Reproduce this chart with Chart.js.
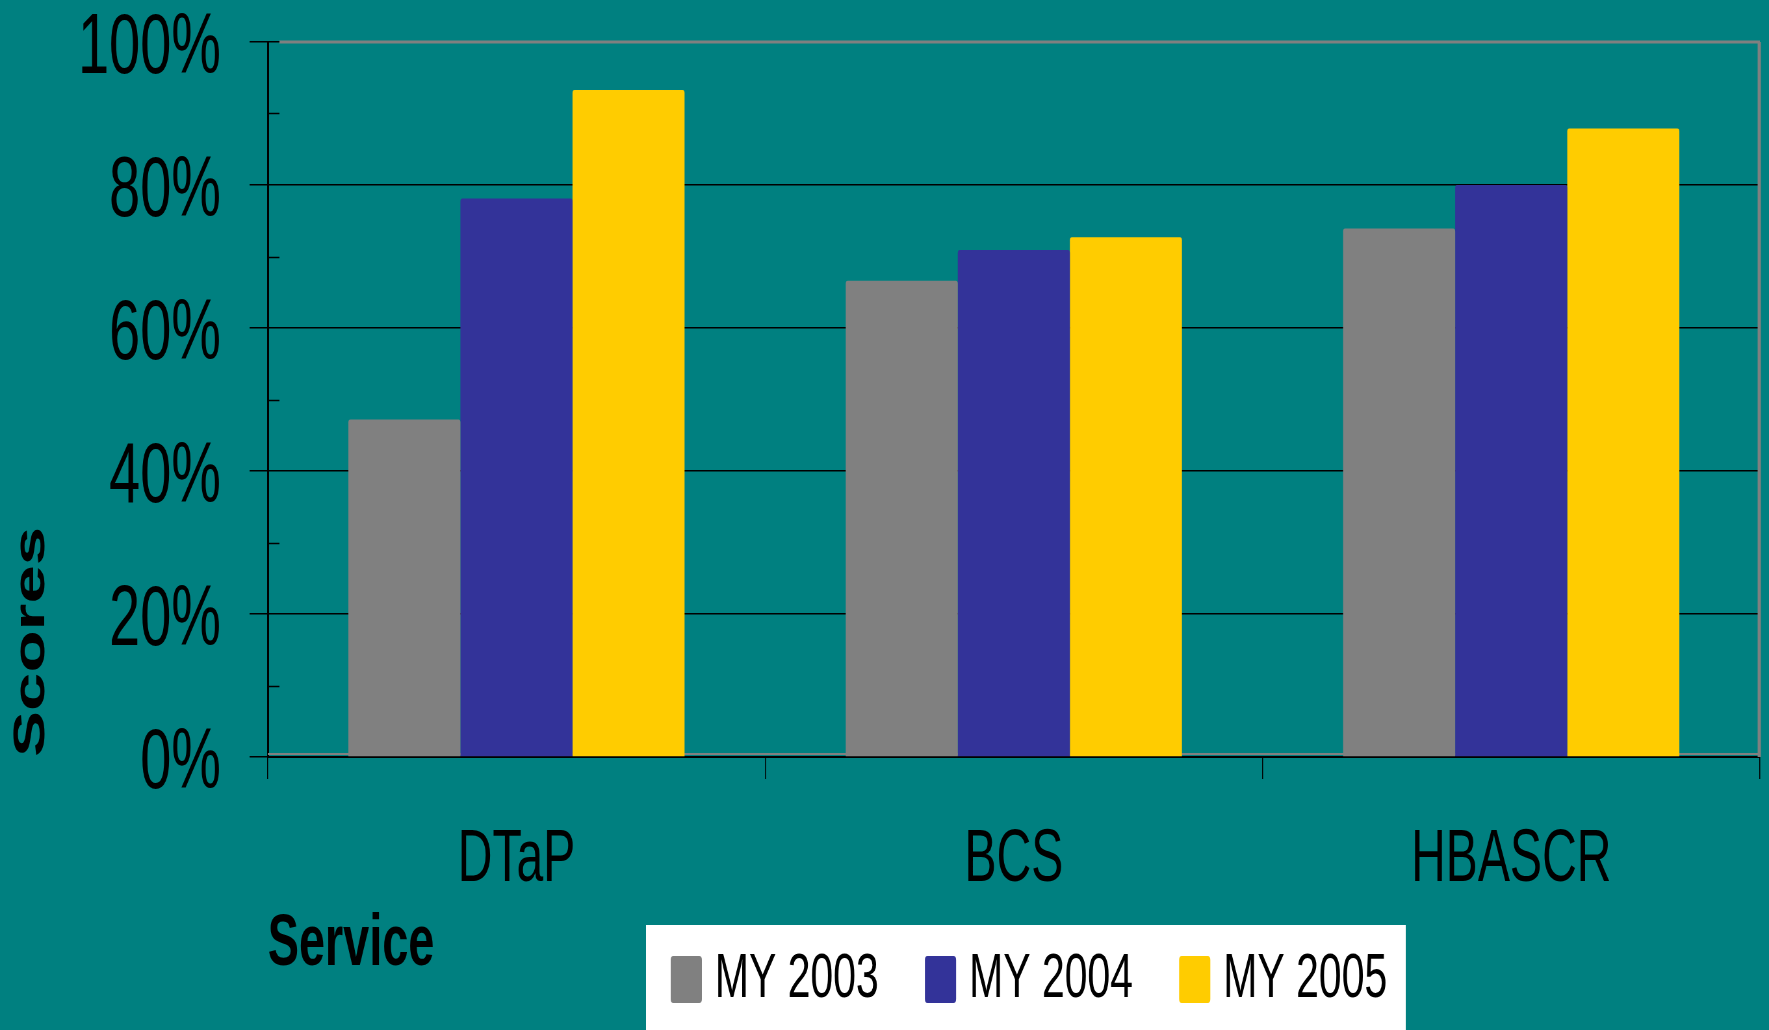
<!DOCTYPE html>
<html>
<head>
<meta charset="utf-8">
<script src="https://cdn.jsdelivr.net/npm/chart.js@4.4.1/dist/chart.umd.min.js"></script>
<style>
  html, body { margin: 0; padding: 0; background: #008080; overflow: hidden; }
</style>
</head>
<body>
<canvas id="c" width="2722" height="1030" style="display:block;width:1769px;height:1030px;"></canvas>
<script>
// ---- data ----
const categories = ['DTaP', 'BCS', 'HBASCR'];
const seriesLabels = ['MY 2003', 'MY 2004', 'MY 2005'];
const my2003 = [47.2, 66.6, 73.9];
const my2004 = [78.1, 70.9, 80.0];
const my2005 = [93.3, 72.7, 87.9];
const yTicks = [0, 20, 40, 60, 80, 100];
const yMinorTicks = [10, 30, 50, 70, 90];
const xTitle = 'Service';
const yTitle = 'Scores';

// ---- style ----
const colors = ['#808080', '#333399', '#FFCC00'];
const FONT = '"Liberation Sans", Arial, sans-serif';

const framePlugin = {
  id: 'frame',
  beforeDatasetsDraw(chart) {
    const {ctx, chartArea: a} = chart;
    const y = chart.scales.y;
    ctx.save();
    ctx.strokeStyle = '#808080';
    ctx.lineWidth = 3;
    ctx.beginPath();
    ctx.moveTo(a.left + 18, a.top);
    ctx.lineTo(a.right, a.top);
    ctx.stroke();
    ctx.lineWidth = 5;
    ctx.beginPath();
    ctx.moveTo(a.right - 1, a.top);
    ctx.lineTo(a.right - 1, a.bottom);
    ctx.stroke();
    ctx.lineWidth = 2;
    ctx.beginPath();
    ctx.moveTo(a.left, a.bottom - 3);
    ctx.lineTo(a.right, a.bottom - 3);
    ctx.stroke();
    ctx.strokeStyle = '#000';
    ctx.lineWidth = 1.5;
    yMinorTicks.forEach(v => {
      const py = Math.round(y.getPixelForValue(v)) + 0.5;
      ctx.beginPath();
      ctx.moveTo(a.left, py);
      ctx.lineTo(a.left + 18, py);
      ctx.stroke();
    });
    ctx.restore();
  }
};

const legendPlugin = {
  id: 'boxLegend',
  afterDraw(chart) {
    const ctx = chart.ctx;
    const L = 994, T = 925, R = 2163, B = 1030;
    ctx.save();
    ctx.fillStyle = '#ffffff';
    ctx.fillRect(L, T, R - L, B - T);
    ctx.font = '63px ' + FONT;
    ctx.textBaseline = 'middle';
    ctx.textAlign = 'left';
    let x = L + 38;
    const cy = 979;
    chart.data.datasets.forEach(ds => {
      ctx.fillStyle = ds.backgroundColor;
      ctx.beginPath();
      ctx.roundRect(x, cy - 23, 48, 47, 4);
      ctx.fill();
      x += 48 + 20;
      ctx.fillStyle = '#000';
      ctx.fillText(ds.label, x, cy + 1);
      x += ctx.measureText(ds.label).width + 71;
    });
    ctx.restore();
  }
};

Chart.defaults.color = '#000';
Chart.defaults.font.family = FONT;

new Chart(document.getElementById('c'), {
  type: 'bar',
  data: {
    labels: categories,
    datasets: [my2003, my2004, my2005].map((d, i) => ({
      label: seriesLabels[i],
      data: d,
      backgroundColor: colors[i],
      borderWidth: 0,
      borderRadius: {topLeft: 3, topRight: 3, bottomLeft: 0, bottomRight: 0},
      borderSkipped: false,
      categoryPercentage: 0.676,
      barPercentage: 1.0
    }))
  },
  options: {
    responsive: false,
    animation: false,
    devicePixelRatio: 1,
    layout: { padding: { top: 42, right: 14, bottom: 0, left: 0 } },
    plugins: {
      legend: { display: false },
      title: { display: false },
      tooltip: { enabled: false }
    },
    scales: {
      x: {
        offset: true,
        grid: {
          display: true,
          drawOnChartArea: false,
          drawTicks: true,
          tickLength: 22,
          color: '#000',
          lineWidth: 1.5,
          offset: true
        },
        border: { display: true, color: '#000', width: 2 },
        ticks: {
          font: { size: 74 },
          color: '#000',
          padding: 37,
          maxRotation: 0,
          autoSkip: false
        },
        title: {
          display: true,
          text: xTitle,
          align: 'start',
          color: '#000',
          font: { size: 72, weight: 'bold' },
          padding: { top: 0, bottom: 42 }
        },
        afterFit(s) {
          s.height = 273;
          s.paddingLeft = 0; s.paddingRight = 0;
        }
      },
      y: {
        min: 0,
        max: 100,
        afterBuildTicks(s) { s.ticks = yTicks.map(v => ({ value: v })); },
        grid: {
          display: true,
          drawOnChartArea: true,
          drawTicks: true,
          tickLength: 28,
          color: '#000',
          lineWidth: 1.5
        },
        border: { display: true, color: '#000', width: 3 },
        ticks: {
          font: { size: 86 },
          color: '#000',
          padding: 44,
          labelOffset: 7,
          callback: v => v + '%'
        },
        title: {
          display: true,
          text: yTitle,
          align: 'start',
          color: '#000',
          font: { size: 69, weight: 'bold' },
          padding: { top: 8, bottom: 0 }
        },
        afterFit(s) {
          s.width = 412;
          s.paddingTop = 0; s.paddingBottom = 0;
          s.paddingLeft = 0; s.paddingRight = 0;
        }
      }
    }
  },
  plugins: [framePlugin, legendPlugin]
});
</script>
</body>
</html>
